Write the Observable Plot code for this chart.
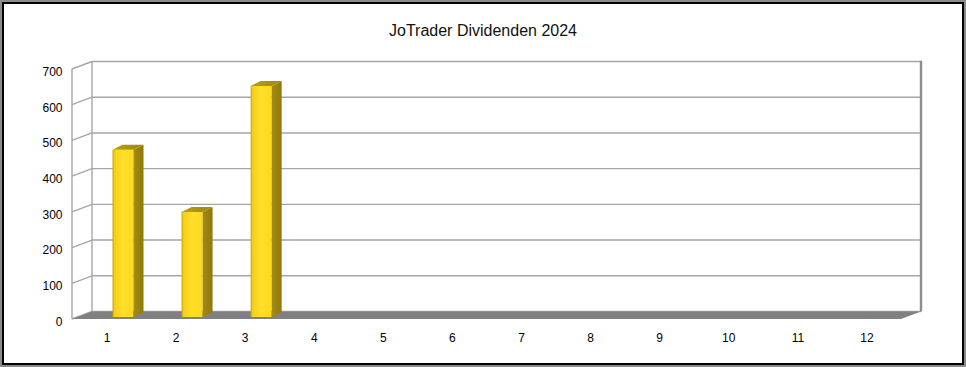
<!DOCTYPE html>
<html><head><meta charset="utf-8">
<script src="https://cdn.jsdelivr.net/npm/d3@7"></script>
<script src="https://cdn.jsdelivr.net/npm/@observablehq/plot@0.6"></script>
<style>
html,body{margin:0;padding:0;background:#fff}
#wrap{position:relative;width:966px;height:367px;overflow:hidden;font-family:"Liberation Sans",Arial,sans-serif;background:#fff}
#frame{position:absolute;left:0;top:0;width:966px;height:367px;box-sizing:border-box;border:2px solid #8a8a8a;pointer-events:none}
#frame2{position:absolute;left:0;top:0;right:0;bottom:0;border:2px solid #000}
#title{position:absolute;top:22px;left:0;width:966px;text-align:center;font-size:16px;line-height:18px;color:#111}
#chart{position:absolute;left:0;top:0}
#defs{position:absolute;width:0;height:0;overflow:hidden}
</style></head>
<body>
<svg id="defs" width="0" height="0">
  <defs>
    <linearGradient id="gFront" x1="0" x2="1" y1="0" y2="0">
      <stop offset="0" stop-color="#c9a400"/>
      <stop offset="0.1" stop-color="#f5d01a"/>
      <stop offset="0.5" stop-color="#ffdf2a"/>
      <stop offset="1" stop-color="#fcd91e"/>
    </linearGradient>
    <linearGradient id="gSide" x1="0" x2="1" y1="0" y2="0">
      <stop offset="0" stop-color="#a48c10"/>
      <stop offset="1" stop-color="#8e790a"/>
    </linearGradient>
    <linearGradient id="gTop" x1="0" x2="1" y1="0" y2="0">
      <stop offset="0" stop-color="#b89e18"/>
      <stop offset="1" stop-color="#a08810"/>
    </linearGradient>
  </defs>
</svg>
<div id="wrap">
  <div id="chart"></div>
  <div id="title">JoTrader Dividenden 2024</div>
  <div id="frame"><div id="frame2"></div></div>
</div>
<script>
// ---- data ----
const months = ["1","2","3","4","5","6","7","8","9","10","11","12"];
const paidMonths = ["1","2","3"];
const dividends = [468, 294, 647];
const yTicks = [0, 100, 200, 300, 400, 500, 600, 700];

const data = paidMonths.map((m, i) => ({month: m, value: dividends[i]}));

// 3D depth of the walls (pixels)
const DX = 20, DY = -7.5;
// bar placement inside a band
const BAR_L = 40.5, BAR_W = 21, BAR_DX = 10, BAR_DY = -5, BAR_LIFT = -2;
const GRID = "#a6a6a6";

function walls(index, scales, values, dims) {
  const {x, y} = scales;
  const x0 = dims.marginLeft, x1 = dims.width - dims.marginRight;
  const g = d3.create("svg:g").attr("fill", "none").attr("stroke", GRID).attr("stroke-width", 1.4);
  for (const t of yTicks) {
    const yy = y(t);
    g.append("line").attr("x1", x0).attr("y1", yy).attr("x2", x0 + DX).attr("y2", yy + DY);
    g.append("line").attr("x1", x0 + DX).attr("y1", yy + DY).attr("x2", x1 + DX).attr("y2", yy + DY);
  }
  const yTop = y(yTicks[yTicks.length - 1]), yBot = y(0);
  g.append("line").attr("x1", x0).attr("y1", yTop).attr("x2", x0).attr("y2", yBot);
  g.append("line").attr("x1", x0 + DX).attr("y1", yTop + DY).attr("x2", x0 + DX).attr("y2", yBot + DY);
  g.append("line").attr("x1", x1 + DX).attr("y1", yTop + DY - 0.7).attr("x2", x1 + DX).attr("y2", yBot + DY)
    .attr("stroke", "#8c8c8c").attr("stroke-width", 2.4);
  // floor
  g.append("path")
    .attr("d", `M${x0},${yBot}L${x0 + DX},${yBot + DY}L${x1 + DX},${yBot + DY}L${x1},${yBot}Z`)
    .attr("fill", "#808080").attr("stroke", "none");
  return g.node();
}

function barSides(index, scales) {
  const {x, y} = scales;
  const g = d3.create("svg:g");
  for (const d of data) {
    const xr = x(d.month) + BAR_L + BAR_W;
    const yb = y(0) + BAR_LIFT, yt = y(d.value) + BAR_LIFT;
    g.append("path")
      .attr("d", `M${xr},${yt}L${xr + BAR_DX},${yt + BAR_DY}L${xr + BAR_DX},${yb + BAR_DY}L${xr},${yb}Z`)
      .attr("fill", "url(#gSide)");
    g.append("path")
      .attr("d", `M${xr - BAR_W},${yt}L${xr},${yt}L${xr + BAR_DX},${yt + BAR_DY}L${xr - BAR_W + BAR_DX},${yt + BAR_DY}Z`)
      .attr("fill", "url(#gTop)");
  }
  return g.node();
}

const hasAxisMarks = typeof Plot.axisY === "function";

const chart = Plot.plot({
  width: 966,
  height: 367,
  marginLeft: 72,
  marginRight: 65,
  marginTop: 69,
  marginBottom: 48,
  style: {fontFamily: '"Liberation Sans", Arial, sans-serif', fontSize: "12px", color: "#000", background: "transparent", overflow: "visible"},
  x: {type: "band", domain: months, padding: 0, round: false, tickSize: 0, tickPadding: 14, label: null},
  y: hasAxisMarks
    ? {domain: [0, 700], axis: null}
    : {domain: [0, 700], ticks: yTicks, tickSize: 0, tickPadding: 10, label: null},
  marks: [
    walls,
    hasAxisMarks ? Plot.axisY({ticks: yTicks, tickSize: 0, tickPadding: 10, dy: 2.5, label: null, fontSize: 12}) : null,
    Plot.barY(data, {x: "month", y: "value", fill: "url(#gFront)", insetLeft: BAR_L, insetRight: 829 / 12 - BAR_L - BAR_W, dy: BAR_LIFT}),
    barSides
  ]
});
document.getElementById("chart").appendChild(chart);
</script>
</body></html>
